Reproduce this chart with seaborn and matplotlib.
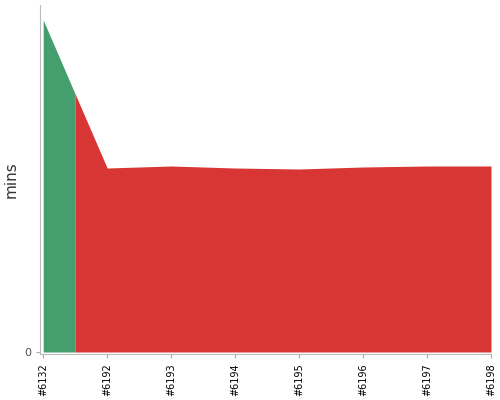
import numpy as np
import matplotlib
matplotlib.use("Agg")
import matplotlib.pyplot as plt
import seaborn as sns

# build durations (mins) per build
builds = ["#6132", "#6192", "#6193", "#6194", "#6195", "#6196", "#6197", "#6198"]
durations = [33.2, 18.4, 18.6, 18.4, 18.3, 18.5, 18.6, 18.6]
# result of each build: green = success, red = failed
results = ["success", "failed", "failed", "failed", "failed", "failed", "failed", "failed"]
colors = {"success": "#459e6e", "failed": "#d83535"}

sns.set_style("ticks")
plt.rcParams["font.family"] = ["DejaVu Sans"]

fig = plt.figure(figsize=(5, 4), dpi=100)
ax = fig.add_axes([0.08, 0.115, 0.902, 0.8725])

x = np.arange(len(builds))
y = np.array(durations)

# group consecutive builds with the same result into one run
runs = []
start = 0
for i in range(1, len(results) + 1):
    if i == len(results) or results[i] != results[start]:
        runs.append((start, i - 1, results[start]))
        start = i

# each run colours the area from halfway before it to halfway after it
for first, last, res in runs:
    lo = max(first - 0.5, 0)
    hi = min(last + 0.5, len(builds) - 1)
    xs = np.concatenate([[lo], x[(x > lo) & (x < hi)], [hi]])
    ys = np.interp(xs, x, y)
    ax.fill_between(xs, 0, ys, color=colors[res], linewidth=0)

ax.set_xlim(-0.05, len(builds) - 1)
ax.set_ylim(-0.2, 34.7)
ax.set_xticks(x)
ax.set_xticklabels(builds, rotation=90, fontsize=7, color="black")
ax.set_yticks([0])
ax.set_yticklabels(["0"], fontsize=8, color="#555555")
ax.set_ylabel("mins", fontsize=11, color="#333333")
ax.tick_params(axis="both", length=3, color="#aaaaaa", width=0.8)
for side in ["left", "bottom"]:
    ax.spines[side].set_color("#bbbbbb")
sns.despine(ax=ax)

fig.savefig("out.png", dpi=100)
